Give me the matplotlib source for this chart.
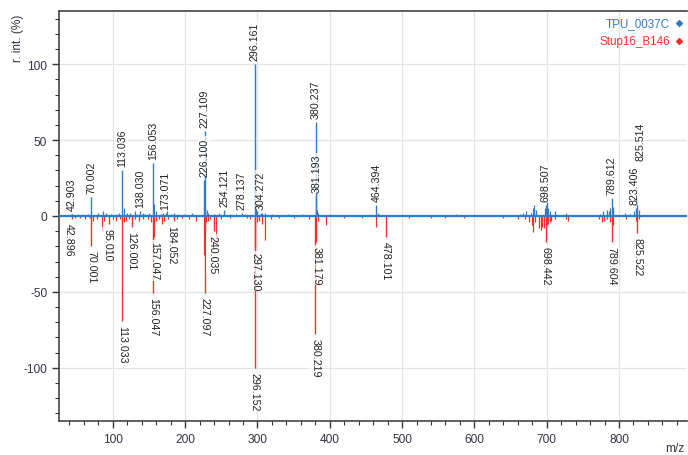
import numpy as np
import matplotlib
matplotlib.use('Agg')
import matplotlib.pyplot as plt
from matplotlib.ticker import MultipleLocator

plt.rcParams['font.family'] = ['Liberation Sans', 'DejaVu Sans']
plt.rcParams['axes.unicode_minus'] = False

# --------------------------------------------------------------------------- #
# Labelled peaks, upper spectrum (TPU_0037C), relative intensity in %.
top_mz = [42.903, 70.002, 113.036, 138.030, 156.053, 173.071, 226.100,
          227.109, 254.121, 278.137, 296.161, 304.272, 380.237, 381.193,
          464.394, 698.507, 789.612, 823.406, 825.514]
top_int = [1.5, 12.5, 30, 3, 35, 2, 24, 56, 4, 2, 100, 2, 62, 13, 7, 7,
           12, 5, 12]

# Unlabelled small peaks of the upper spectrum.
top_noise_mz = [44, 52, 58, 66, 79, 86, 91, 98, 104, 109, 115, 119, 124, 130,
                133, 141, 145, 150, 157.5, 159, 166, 170, 175, 180, 185, 190,
                198, 210, 228, 229.5, 232, 240, 247, 262, 270, 283, 298, 300,
                306, 311, 320, 342, 362, 382, 384, 400, 466, 575, 663, 667,
                671, 678, 681, 683, 685, 697, 700, 702, 705, 712, 727, 773,
                778, 783, 786, 788, 791, 792, 808, 815, 821, 827]
top_noise_int = [1.5, 1, 1, 1.5, 2, 3, 2, 1.5, 1, 2, 5, 2, 2, 3, 1.5, 2, 1.5,
                 2, 8, 3, 1.5, 2, 3, 1.5, 2, 1, 1, 2, 6, 4, 2, 1.5, 2, 1, 1,
                 1.5, 8, 3, 2, 2, 1, 1, 1.5, 4, 2, 1, 2, 1.5, 1.5, 2, 3, 2, 5,
                 7, 4, 5, 9, 5, 3, 3, 2, 1.5, 3, 4, 3, 5, 6, 4, 2, 1.5, 3, 4]

# Labelled peaks, lower spectrum (Stup16_B146), drawn downwards.
bot_mz = [42.896, 70.001, 95.010, 113.033, 126.001, 157.047, 156.047,
          184.052, 240.035, 227.097, 297.130, 296.152, 381.179, 380.219,
          478.101, 698.442, 789.604, 825.522]
bot_int = [-2, -20, -5, -69, -7, -14, -51, -3, -10, -51, -21, -100, -17,
           -78, -14, -17, -17, -11]

# Unlabelled small peaks of the lower spectrum.
bot_noise_mz = [48, 55, 62, 68, 72, 78, 85, 88, 100, 104, 110, 115, 118, 122,
                130, 136, 141, 148, 153, 159, 164, 168, 171, 176, 188, 195,
                205, 215, 226, 229, 231, 235, 242, 250, 262, 285, 290, 299,
                302, 306, 310, 318, 330, 350, 371, 383, 394.7, 420, 445, 463.5,
                510, 540, 560, 585, 640, 660, 670, 676, 679, 681.3, 684, 690,
                692, 694, 696, 700, 702, 704, 706, 712, 726, 730, 772, 776,
                779, 784, 787, 791, 809, 823, 828]
bot_noise_int = [-1.5, -1, -2, -1.5, -3, -2, -10, -3, -2, -3, -2, -4, -3, -2,
                 -2, -3, -2, -2, -4, -3, -2, -5, -3, -2, -2, -1.5, -2, -3,
                 -26, -4, -3, -2, -18, -2, -1.5, -1, -2, -4, -3, -5, -16, -2,
                 -1.5, -1, -2, -3, -6, -1, -1, -7.5, -1, -1, -1, -1, -1, -2,
                 -2, -4, -6, -10.5, -4, -8, -9, -7, -8, -6, -5, -4, -3, -2,
                 -2, -3, -2, -4, -3, -2, -4, -6, -2, -3, -2]

# Labels that were moved by the collision avoidance in the original software.
label_lift = {'825.514': 34}
label_dx = {'825.514': 3, '823.406': -1, '42.896': -3, '95.010': -2,
            '184.052': -2, '240.035': -2}

blue = '#2f7bc8'
red = '#f2302b'

# --------------------------------------------------------------------------- #
fig = plt.figure(figsize=(6.88, 4.56), dpi=100)
ax = fig.add_axes([59 / 688., 34 / 456., 628 / 688., 410 / 456.])

ax.grid(True, which='major', color='#e4e4e4', lw=0.9, zorder=0)

ax.vlines(bot_noise_mz, 0, bot_noise_int, color=red, lw=0.9, zorder=2)
ax.vlines(bot_mz, 0, bot_int, color=red, lw=1.0, zorder=2)
ax.vlines(top_noise_mz, 0, top_noise_int, color=blue, lw=0.9, zorder=3)
ax.vlines(top_mz, 0, top_int, color=blue, lw=1.0, zorder=3)
ax.axhline(0, color=blue, lw=1.6, zorder=4)

box = dict(boxstyle='square,pad=0.1', fc='white', ec='none', alpha=0.75)
for mz, h in zip(top_mz, top_int):
    lab = '%.3f' % mz
    y = label_lift.get(lab, h)
    ax.annotate(lab, (mz, y), xytext=(label_dx.get(lab, 0), 4),
                textcoords='offset pixels', rotation=90, ha='center',
                va='bottom', fontsize=7.7, color='#222222', bbox=box,
                zorder=5)
for mz, h in zip(bot_mz, bot_int):
    lab = '%.3f' % mz
    ax.annotate(lab, (mz, h), xytext=(label_dx.get(lab, 0), -4),
                textcoords='offset pixels', rotation=270, ha='center',
                va='top', fontsize=7.7, color='#222222', bbox=box, zorder=5)

ax.set_xlim(25.5, 894)
ax.set_ylim(-135, 135)
ax.xaxis.set_major_locator(MultipleLocator(100))
ax.xaxis.set_minor_locator(MultipleLocator(20))
ax.yaxis.set_major_locator(MultipleLocator(50))
ax.yaxis.set_minor_locator(MultipleLocator(10))
ax.tick_params(which='major', length=5, width=1, color='#333333',
               labelsize=8.6, labelcolor='#333344')
ax.tick_params(which='minor', length=3, width=0.8, color='#333333')

for side in ['left', 'bottom', 'top']:
    ax.spines[side].set_color('#444444')
    ax.spines[side].set_linewidth(1.2)
ax.spines['right'].set_visible(False)

# Axis titles.
fig.text(18 / 688., 1 - 38 / 456., 'r. int. (%)', rotation=90, ha='center',
         va='center', fontsize=8.6, color='#333344')
fig.text(675 / 688., 1 - 449 / 456., 'm/z', ha='center', va='center',
         fontsize=8.6, color='#333344')

# Legend.
names = ['TPU_0037C', 'Stup16_B146']
colours = [blue, red]
for i, (name, c) in enumerate(zip(names, colours)):
    yy = 1 - (24.3 + 17.4 * i - 12) / 410.
    ax.text((670 - 59) / 628., yy, name, transform=ax.transAxes, ha='right',
            va='center', fontsize=8.4, color=c, zorder=6)
    ax.plot([(678.5 - 59) / 628.], [yy], transform=ax.transAxes, marker='D',
            ms=3, color=c, clip_on=False, zorder=6)

plt.savefig('out.png', dpi=100)
